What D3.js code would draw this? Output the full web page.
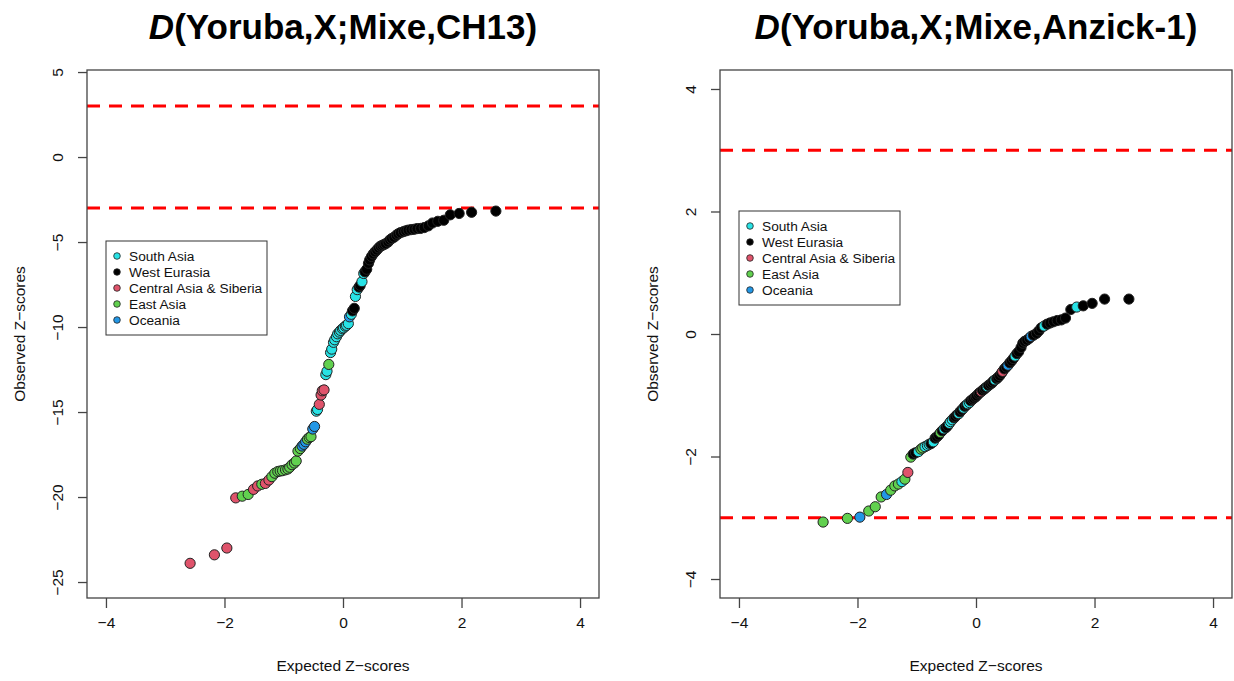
<!DOCTYPE html>
<html lang="en">
<head>
	<meta charset="utf-8">
	<title>D-statistic QQ plots</title>
	<script src="https://cdn.jsdelivr.net/npm/d3@7"></script>
	<style>
		body { margin: 0; background: #fff; }
		text { font-family: "Liberation Sans", Arial, Helvetica, sans-serif; }
	</style>
</head>
<body>
	<script>
		var groupNames = ["South Asia", "West Eurasia", "Central Asia & Siberia", "East Asia", "Oceania"];
		var groupCodes = ["S", "W", "C", "E", "O"];
		var groupColors = ["#28E2E5", "#000000", "#DF536B", "#61D04F", "#2297E6"];

		// expected normal quantiles (x), same for both panels
		var expected = [-2.58,-2.17,-1.96,-1.81,-1.70,-1.60,-1.51,-1.44,-1.37,-1.31,
			-1.25,-1.20,-1.15,-1.10,-1.06,-1.02,-0.97,-0.93,-0.90,-0.86,
			-0.82,-0.79,-0.76,-0.72,-0.69,-0.66,-0.63,-0.60,-0.57,-0.54,
			-0.51,-0.48,-0.45,-0.43,-0.40,-0.37,-0.35,-0.32,-0.29,-0.27,
			-0.24,-0.21,-0.19,-0.16,-0.14,-0.11,-0.09,-0.06,-0.04,-0.01,
			0.01,0.04,0.06,0.09,0.11,0.14,0.16,0.19,0.21,0.24,
			0.27,0.29,0.32,0.35,0.37,0.40,0.43,0.45,0.48,0.51,
			0.54,0.57,0.60,0.63,0.66,0.69,0.72,0.76,0.79,0.82,
			0.86,0.90,0.93,0.97,1.02,1.06,1.10,1.15,1.20,1.25,
			1.31,1.37,1.44,1.51,1.60,1.70,1.81,1.96,2.17,2.58];

		// observed Z for D(Yoruba,X;Mixe,CH13)
		var ch13Observed = [-23.9,-23.4,-23.0,-20.05,-19.95,-19.85,-19.55,-19.35,-19.25,-19.2,
			-19.0,-18.8,-18.6,-18.5,-18.47,-18.45,-18.4,-18.35,-18.25,-18.1,
			-18.0,-17.88,-17.3,-17.15,-17.0,-16.9,-16.75,-16.6,-16.5,-16.45,
			-16.0,-15.85,-14.95,-14.85,-14.55,-14.0,-13.75,-13.7,-12.8,-12.6,
			-12.2,-11.5,-11.3,-10.9,-10.75,-10.57,-10.4,-10.3,-10.2,-10.1,
			-10.05,-9.95,-9.9,-9.8,-9.4,-9.25,-9.05,-8.9,-8.2,-7.8,
			-7.65,-7.55,-7.33,-6.85,-6.75,-6.6,-6.25,-6.05,-5.85,-5.7,
			-5.58,-5.47,-5.35,-5.25,-5.2,-5.15,-5.1,-5.0,-4.88,-4.8,
			-4.72,-4.6,-4.52,-4.45,-4.39,-4.34,-4.3,-4.27,-4.25,-4.21,
			-4.2,-4.15,-4.05,-3.88,-3.78,-3.72,-3.4,-3.32,-3.25,-3.18];
		var ch13Groups = ("CCCCEECCEC" + "CEEEEEEEEE" + "EEEEOOOEEE" + "OOSSCCCCSS" + "ESSSSSSSSS" +
			"SSSSOSWWSS" + "WWSSWWWWWW" + "WWWWWWWWWW" + "WWWWWWWWWW" + "WWWWWWWWWW").split("");

		// observed Z for D(Yoruba,X;Mixe,Anzick-1)
		var anzickObserved = [-3.07,-3.01,-2.99,-2.89,-2.82,-2.66,-2.62,-2.55,-2.48,-2.45,
			-2.41,-2.37,-2.26,-2.01,-1.96,-1.94,-1.92,-1.88,-1.86,-1.84,
			-1.82,-1.80,-1.79,-1.76,-1.70,-1.68,-1.65,-1.61,-1.58,-1.55,
			-1.53,-1.50,-1.46,-1.43,-1.40,-1.37,-1.35,-1.32,-1.30,-1.27,
			-1.24,-1.21,-1.18,-1.16,-1.14,-1.12,-1.09,-1.07,-1.05,-1.03,
			-1.01,-0.98,-0.96,-0.94,-0.92,-0.90,-0.88,-0.86,-0.84,-0.82,
			-0.80,-0.77,-0.75,-0.73,-0.71,-0.68,-0.64,-0.61,-0.57,-0.54,
			-0.51,-0.47,-0.44,-0.40,-0.36,-0.32,-0.29,-0.22,-0.15,-0.12,
			-0.10,-0.07,-0.04,-0.02,0.01,0.05,0.10,0.13,0.16,0.18,
			0.20,0.22,0.23,0.26,0.40,0.44,0.46,0.50,0.57,0.57];
		var anzickGroups = ("EEOEEEOEEE" + "SECEWWSEES" + "SSWSWWWEWS" + "WWSSSWWWSW" + "WSWWSSWWWW" +
			"WWWCWWWSWW" + "WWSWWWWCWW" + "OWWWSWWWWW" + "WWOWWWWSWW" + "WWWWWSWWWW").split("");

		var xTicks = [-4, -2, 0, 2, 4];
		var ch13YTicks = [-25, -20, -15, -10, -5, 0, 5];
		var anzickYTicks = [-4, -2, 0, 2, 4];
		var thresholds = [-3, 3];

		var w = 1234;
		var h = 681;

		var svg = d3.select("body")
			.append("svg")
			.attr("width", w)
			.attr("height", h);

		var panels = [
			{ name: "CH13", ys: ch13Observed, groups: ch13Groups, yTicks: ch13YTicks,
				yDomain: [-25.94, 5.12], left: 87, legendX: 106, legendY: 241 },
			{ name: "Anzick-1", ys: anzickObserved, groups: anzickGroups, yTicks: anzickYTicks,
				yDomain: [-4.31, 4.31], left: 720, legendX: 739, legendY: 211 }
		];

		var boxW = 512, plotTop = 70, plotBottom = 598;
		var minus = function(d) { return String(d).replace("-", "\u2212"); };

		panels.forEach(function(p) {
			var g = svg.append("g");
			var x0 = p.left, x1 = p.left + boxW;

			var xScale = d3.scaleLinear().domain([-4.32, 4.32]).range([x0, x1]);
			var yScale = d3.scaleLinear().domain(p.yDomain).range([plotBottom, plotTop]);
			var cx = (x0 + x1) / 2;

			// title, italic D
			var title = g.append("text")
				.attr("x", cx)
				.attr("y", 39)
				.attr("text-anchor", "middle")
				.attr("font-size", 35)
				.attr("font-weight", "bold");
			title.append("tspan").attr("font-style", "italic").text("D");
			title.append("tspan").text("(Yoruba,X;Mixe," + p.name + ")");

			// threshold lines
			g.selectAll(".thr")
				.data(thresholds)
				.enter()
				.append("line")
				.attr("x1", x0)
				.attr("x2", x1)
				.attr("y1", function(d) { return yScale(d); })
				.attr("y2", function(d) { return yScale(d); })
				.attr("stroke", "#ff0000")
				.attr("stroke-width", 3)
				.attr("stroke-dasharray", "13,9");

			// points
			g.selectAll("circle.pt")
				.data(p.ys)
				.enter()
				.append("circle")
				.attr("class", "pt")
				.attr("cx", function(d, i) { return xScale(expected[i]); })
				.attr("cy", function(d) { return yScale(d); })
				.attr("r", 5.1)
				.attr("fill", function(d, i) { return groupColors[groupCodes.indexOf(p.groups[i])]; })
				.attr("stroke", "#222")
				.attr("stroke-width", 1);

			// box
			g.append("rect")
				.attr("x", x0)
				.attr("y", plotTop)
				.attr("width", boxW)
				.attr("height", plotBottom - plotTop)
				.attr("fill", "none")
				.attr("stroke", "#444")
				.attr("stroke-width", 1.3);

			// x axis
			var xAxis = d3.axisBottom(xScale)
				.tickValues(xTicks)
				.tickSize(10)
				.tickPadding(9)
				.tickFormat(minus);
			var xa = g.append("g").attr("transform", "translate(0," + plotBottom + ")").call(xAxis);
			xa.select(".domain").remove();
			xa.selectAll("line").attr("stroke", "#444").attr("stroke-width", 1.3);
			xa.selectAll("text").attr("font-size", 15.5).attr("fill", "#111")
				.attr("font-family", "Liberation Sans, Arial, sans-serif");

			// y axis with rotated labels
			var yAxis = d3.axisLeft(yScale)
				.tickValues(p.yTicks)
				.tickSize(9)
				.tickPadding(0)
				.tickFormat(minus);
			var ya = g.append("g").attr("transform", "translate(" + x0 + ",0)").call(yAxis);
			ya.select(".domain").remove();
			ya.selectAll("line").attr("stroke", "#444").attr("stroke-width", 1.3);
			ya.selectAll("text")
				.attr("x", 0)
				.attr("dy", null)
				.attr("transform", "translate(-24,0) rotate(-90)")
				.attr("text-anchor", "middle")
				.attr("font-size", 15.5).attr("fill", "#111")
				.attr("font-family", "Liberation Sans, Arial, sans-serif");

			// axis titles
			g.append("text")
				.attr("x", cx)
				.attr("y", 671)
				.attr("text-anchor", "middle")
				.attr("font-size", 15.5)
				.attr("fill", "#111")
				.text("Expected Z\u2212scores");

			g.append("text")
				.attr("transform", "translate(" + (x0 - 62) + "," + ((plotTop + plotBottom) / 2) + ") rotate(-90)")
				.attr("text-anchor", "middle")
				.attr("font-size", 15.5)
				.attr("fill", "#111")
				.text("Observed Z\u2212scores");

			// legend
			var lg = g.append("g").attr("transform", "translate(" + p.legendX + "," + p.legendY + ")");
			lg.append("rect")
				.attr("width", 161)
				.attr("height", 94)
				.attr("fill", "#fff")
				.attr("stroke", "#333")
				.attr("stroke-width", 1);
			var items = lg.selectAll(".item")
				.data(groupNames)
				.enter()
				.append("g")
				.attr("transform", function(d, i) { return "translate(0," + (15 + i * 16) + ")"; });
			items.append("circle")
				.attr("cx", 11)
				.attr("r", 3.3)
				.attr("fill", function(d, i) { return groupColors[i]; })
				.attr("stroke", "#222")
				.attr("stroke-width", 0.8);
			items.append("text")
				.attr("x", 23)
				.attr("dy", "0.35em")
				.attr("font-size", 13.7)
				.attr("fill", "#111")
				.text(function(d) { return d; });
		});
	</script>
</body>
</html>
